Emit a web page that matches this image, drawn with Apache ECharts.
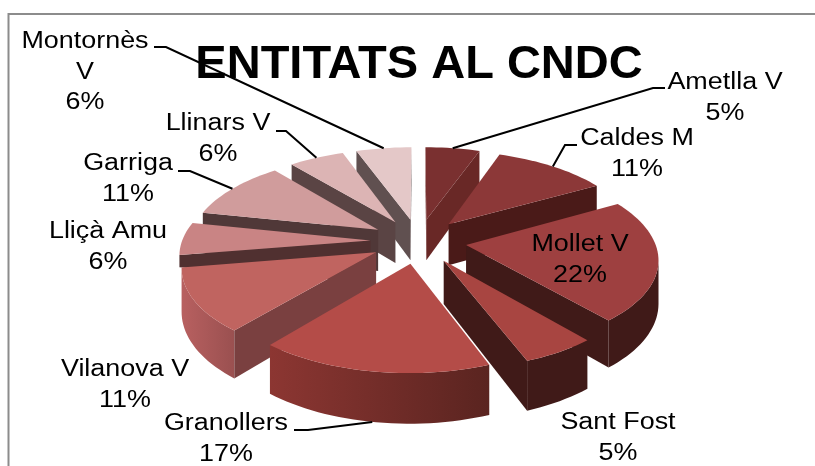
<!DOCTYPE html>
<html><head><meta charset="utf-8"><style>html,body{margin:0;padding:0;background:#fff}#c{width:815px;height:466px}</style>
<script src="https://cdn.jsdelivr.net/npm/echarts@6/dist/echarts.min.js"></script></head>
<body><div id="c"></div><script>
const chartTitle = 'ENTITATS AL CNDC';
const categories = ['Ametlla V','Caldes M','Mollet V','Sant Fost','Granollers','Vilanova V','Lliçà Amu','Garriga','Llinars V','Montornès V'];
const values = [5.4,11.4,22.0,5.4,16.8,11.4,5.9,10.7,5.5,5.5];

const topColors = ['#7a3030','#8c3838','#9e4040','#a84541','#b44c48','#c06460','#c98484','#d09c9c','#dcb4b4','#e4c8c8'];
const cutColors = ['#692826','#4a1a18','#401a18','#401a18','#401a18','#7a4040','#503030','#503838','#5a4444','#605050'];
const wallFrom  = ['#692826','#4a1a18','#401a18','#401a18','#8c3632','#b86060','#a86868','#a87c7c','#b09090','#b8a0a0'];
const wallTo    = ['#692826','#4a1a18','#401a18','#401a18','#5a2420','#9a5050','#905858','#906868','#907878','#988888'];

const labelX = [725,637,580,618,226,125,108,128,218,85];
const labelY = [83,139,245,423,424,370,232,164,124,42];
const labelLines = [['Ametlla V'],['Caldes M'],['Mollet V'],['Sant Fost'],['Granollers'],['Vilanova V'],['Lliçà Amu'],['Garriga'],['Llinars V'],['Montornès','V']];
const leaders = [[665,88,653,88],[577,145,565,145],null,null,[294,430,308,430],null,null,[178,171,190,171],[276,131,286,131],[154,47,166,47]];

const cx=418.5, cy=241, R=188.5, E=48, K=0.465, P=0.00072, DEPTH=42;
const total = values.reduce((a,b)=>a+b,0);
const rad = t => t*Math.PI/180;
function proj(u,v,z){const s=1/(1+P*v);return [cx+u*s, cy-K*v*s+z*s];}
const angles=[];let acc=0;
values.forEach(v=>{const a0=acc/total*360;acc+=v;angles.push([a0,acc/total*360]);});
const order=angles.map((a,i)=>[Math.cos(rad((a[0]+a[1])/2)),i]).sort((a,b)=>b[0]-a[0]);
const rank=[];order.forEach((o,r)=>rank[o[1]]=r);

function renderItem(params,api){
  const i=api.value(0);
  const [a0,a1]=angles[i];
  const mid=rad((a0+a1)/2);
  const ou=E*Math.sin(mid), ov=E*Math.cos(mid);
  const pt=(t,r,z)=>proj(ou+r*Math.sin(rad(t)),ov+r*Math.cos(rad(t)),z);
  const arcN=Math.max(8,Math.ceil((a1-a0)/2));
  const arc=[];for(let n=0;n<=arcN;n++)arc.push(a0+(a1-a0)*n/arcN);
  const base=rank[i]*10;
  const ch=[];
  const tucked=a0>=250&&a0<270; // slice whose lower rim is hidden behind its front neighbour
  const vis=arc.filter((t,n)=>{const q=arc[n+1],p=arc[n-1];const a=pt(t,R,0);
    return (q!==undefined&&pt(q,R,0)[0]<a[0])||(p!==undefined&&a[0]<pt(p,R,0)[0]);});
  if(vis.length>1 && !tucked){
    const pts=vis.map(t=>pt(t,R,0)).concat(vis.slice().reverse().map(t=>pt(t,R,DEPTH)));
    ch.push({type:'polygon',z2:base,shape:{points:pts},style:{fill:new echarts.graphic.LinearGradient(0,0,1,0,[{offset:0,color:wallFrom[i]},{offset:1,color:wallTo[i]}])}});
  }
  const apexT=proj(ou,ov,0),apexB=proj(ou,ov,DEPTH);
  const s0=pt(a0,R,0),s0b=pt(a0,R,tucked?12:DEPTH),s1=pt(a1,R,0),s1b=pt(a1,R,DEPTH);
  if(s0[0]<apexT[0]) ch.push({type:'polygon',z2:base+1,shape:{points:[apexT,s0,s0b,apexB]},style:{fill:cutColors[i]}});
  if(apexT[0]<s1[0]) ch.push({type:'polygon',z2:base+1,shape:{points:[s1,apexT,apexB,s1b]},style:{fill:cutColors[i]}});
  ch.push({type:'polygon',z2:base+2,shape:{points:[apexT].concat(arc.map(t=>pt(t,R,0)))},style:{fill:topColors[i]}});
  if(leaders[i]){
    const m=(a0+a1)/2, front=Math.cos(rad(m))<0;
    const l=leaders[i];
    ch.push({type:'polyline',z2:300,shape:{points:[[l[0],l[1]],[l[2],l[3]],pt(m,R,front?DEPTH:0)]},style:{stroke:'#000',lineWidth:2,fill:null}});
  }
  const lines=labelLines[i].concat([Math.round(values[i])+'%']);
  lines.forEach((s,n)=>{
    ch.push({type:'text',z2:400,x:labelX[i],y:labelY[i]+n*30.5,scaleX:1.17,originX:0,
      style:{text:s,x:0,y:0,align:'center',verticalAlign:'middle',fontFamily:'Liberation Sans',fontSize:23,fill:'#000'}});
  });
  return {type:'group',children:ch};
}
const chart=echarts.init(document.getElementById('c'),null,{renderer:'canvas'});
chart.setOption({
  animation:false,backgroundColor:'#fff',
  title:{text:chartTitle,left:414,top:37,textAlign:'center',textStyle:{fontFamily:'Liberation Sans',fontWeight:'bold',fontSize:47,color:'#000'}},
  graphic:[{type:'rect',z:-1,shape:{x:8.5,y:14,width:900,height:600},style:{fill:'#fff',stroke:'#8c8c8c',lineWidth:2}}],
  series:[{type:'custom',coordinateSystem:'none',renderItem,silent:true,
    data:categories.map((c,i)=>({name:c,value:[i,values[i]]}))}]
});
</script></body></html>
